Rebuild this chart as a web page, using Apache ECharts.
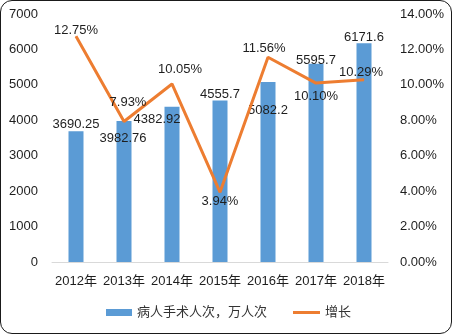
<!DOCTYPE html>
<html>
<head>
<meta charset="utf-8">
<script src="https://cdn.jsdelivr.net/npm/echarts@6/dist/echarts.min.js"></script>
<style>
  html, body { margin: 0; padding: 0; background: #fff; }
  #wrap { position: relative; width: 452px; height: 334px; }
  #chart { position: absolute; left: 0; top: 0; width: 452px; height: 334px; }
  #frame {
    position: absolute; left: 0; top: 0; width: 452px; height: 334px;
    box-sizing: border-box; border: 1.5px solid #1a1a1a; border-radius: 12px;
    pointer-events: none;
  }
</style>
</head>
<body>
<div id="wrap">
  <div id="chart"></div>
  <div id="frame"></div>
</div>
<script>
// Surgery volume (10k person-times) and year-on-year growth, 2012-2018
const years = ['2012年', '2013年', '2014年', '2015年', '2016年', '2017年', '2018年'];
const surgeries = [3690.25, 3982.76, 4382.92, 4555.7, 5082.2, 5595.7, 6171.6];
const growth = [12.75, 7.93, 10.05, 3.94, 11.56, 10.10, 10.29];
const barName = '病人手术人次，万人次';
const lineName = '增长';

// Label nudges (px) so value labels sit clear of the growth line
const barLabelNudge = [[0, 0], [-1, 24], [-15, 19], [0, 0], [0, 35], [0, 3], [0, 1]];
const lineLabelNudge = [[0, 1], [4, -12], [8, -8], [0, 16], [-4, -2], [0, 20], [-3, 0]];

const FONT = '"Liberation Sans", "Noto Sans CJK SC", sans-serif';
const TXT = '#1e1e1e';

const barData = surgeries.map((v, i) => ({
  value: v,
  label: { offset: barLabelNudge[i] }
}));
const lineData = growth.map((v, i) => ({
  value: v,
  label: { offset: lineLabelNudge[i] }
}));

const chart = echarts.init(document.getElementById('chart'), null, { renderer: 'canvas' });
chart.setOption({
  animation: false,
  textStyle: { fontFamily: FONT },
  grid: { left: 52, right: 64, top: 14, bottom: 72, containLabel: false },
  legend: [
    {
      data: [{ name: barName, icon: 'rect' }],
      left: 106, top: 306, padding: 0,
      itemWidth: 26, itemHeight: 7, itemGap: 4,
      textStyle: { fontFamily: FONT, fontSize: 13, color: '#333' }
    },
    {
      data: [{ name: lineName, icon: 'rect' }],
      left: 293, top: 306, padding: 0,
      itemWidth: 27, itemHeight: 3, itemGap: 4,
      textStyle: { fontFamily: FONT, fontSize: 13, color: '#333' }
    }
  ],
  xAxis: {
    type: 'category',
    data: years,
    axisLine: { lineStyle: { color: '#d9d9d9', width: 1 } },
    axisTick: { show: false },
    axisLabel: { color: TXT, fontSize: 13, fontFamily: FONT, margin: 13, interval: 0 }
  },
  yAxis: [
    {
      type: 'value',
      min: 0, max: 7000, interval: 1000,
      splitLine: { show: false },
      axisLine: { show: false },
      axisTick: { show: false },
      axisLabel: {
        color: TXT, fontSize: 13, fontFamily: FONT, margin: 14,
        formatter: v => String(v)
      }
    },
    {
      type: 'value',
      min: 0, max: 14, interval: 2,
      position: 'right',
      splitLine: { show: false },
      axisLine: { show: false },
      axisTick: { show: false },
      axisLabel: {
        color: TXT, fontSize: 13, fontFamily: FONT, margin: 12,
        formatter: v => v.toFixed(2) + '%'
      }
    }
  ],
  series: [
    {
      name: barName,
      type: 'bar',
      data: barData,
      barWidth: 15,
      itemStyle: { color: '#5B9BD5' },
      label: {
        show: true, position: 'top', distance: 0,
        color: TXT, fontSize: 13, fontFamily: FONT
      }
    },
    {
      name: lineName,
      type: 'line',
      yAxisIndex: 1,
      data: lineData,
      symbol: 'circle',
      symbolSize: 1,
      showSymbol: true,
      itemStyle: { color: '#ED7D31' },
      lineStyle: { color: '#ED7D31', width: 3 },
      label: {
        show: true, position: 'top', distance: 0,
        color: TXT, fontSize: 13, fontFamily: FONT,
        formatter: p => p.value.toFixed(2) + '%'
      },
      z: 5
    }
  ]
});
</script>
</body>
</html>
